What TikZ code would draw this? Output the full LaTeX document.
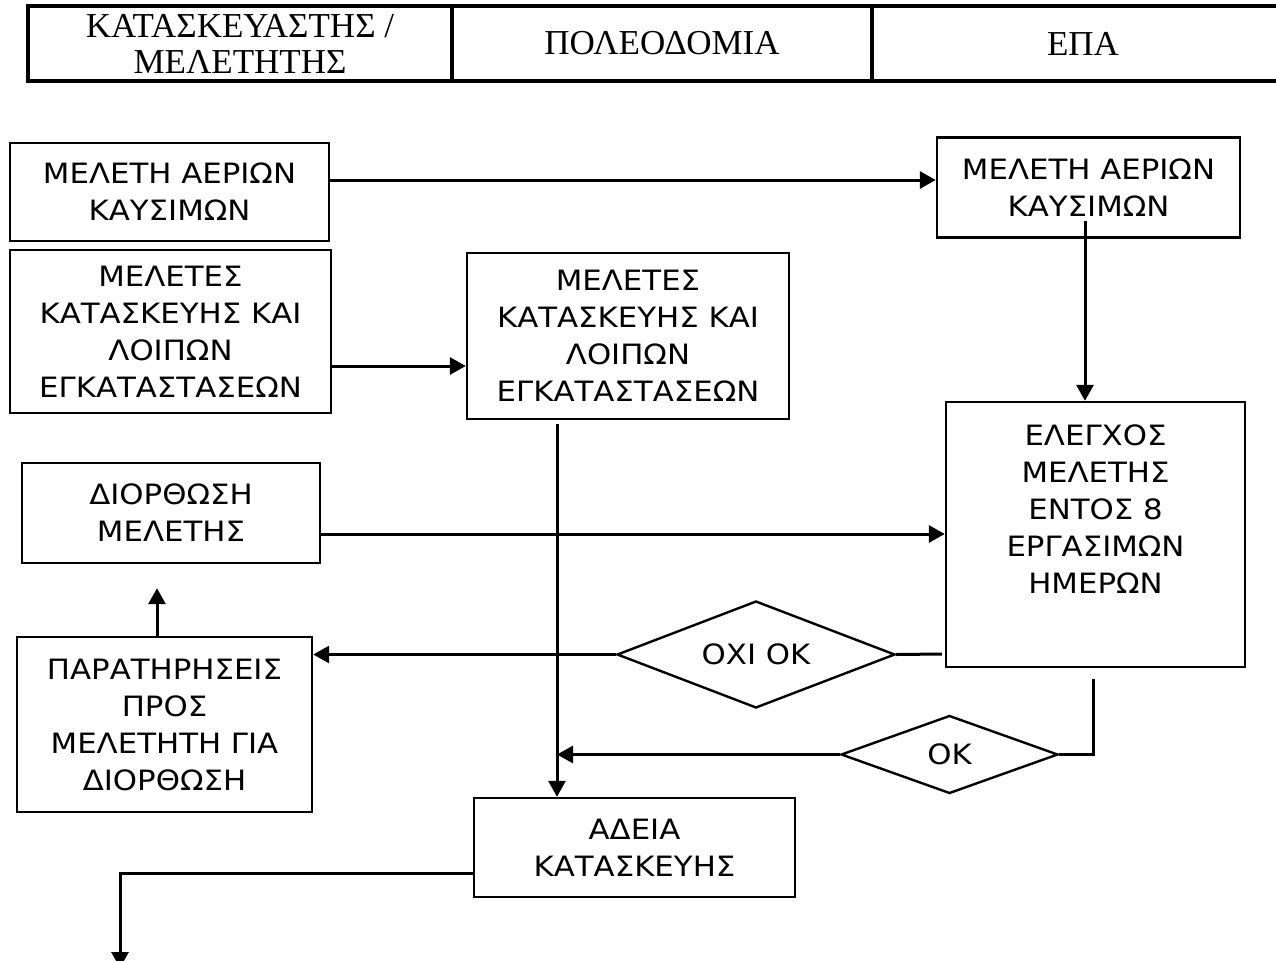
\documentclass[tikz,border=0pt]{standalone}
\usepackage{fontspec}
\setmainfont{Liberation Serif}
\newfontfamily\boxfont{DejaVu Sans}[FakeStretch=1.1]
\usepackage{tikz}
\usetikzlibrary{arrows.meta, shapes.geometric}

\tikzset{
  hdr/.style={draw, line width=1.6pt, inner sep=0pt, align=center,
              font=\fontsize{17.5}{18}\selectfont},
  box/.style={draw, line width=1.2pt, inner sep=0pt, align=center,
              font=\boxfont\fontsize{14}{18.5}\selectfont},
  choice/.style={draw, diamond, aspect=2.6, line width=1.2pt, inner sep=0pt,
                 font=\boxfont\fontsize{14}{18.5}\selectfont},
  arr/.style={line width=1.5pt, arrows={-Triangle[length=8pt, width=8.5pt]}},
  link/.style={line width=1.5pt},
}

\begin{document}
\begin{tikzpicture}[x=0.5pt, y=-0.5pt]
      \useasboundingbox (0, 0) rectangle (1276, 960);

      % Draw header cells.
      \node [hdr, minimum width=212pt, minimum height=37.5pt] (hdrA) at (240, 43.5)
            {ΚΑΤΑΣΚΕΥΑΣΤΗΣ /\\ΜΕΛΕΤΗΤΗΣ};
      \node [hdr, minimum width=210pt, minimum height=37.5pt] (hdrB) at (662, 43.5)
            {ΠΟΛΕΟΔΟΜΙΑ};
      \node [hdr, minimum width=211pt, minimum height=37.5pt] (hdrC) at (1083, 43.5)
            {ΕΠΑ};

      % Draw boxes.
      \node [box, minimum width=159.5pt, minimum height=49pt] (gasA) at (169.5, 192)
            {ΜΕΛΕΤΗ ΑΕΡΙΩΝ\\ΚΑΥΣΙΜΩΝ};
      \node [box, minimum width=160.5pt, minimum height=81.5pt] (studA) at (170.5, 331.5)
            {ΜΕΛΕΤΕΣ\\ΚΑΤΑΣΚΕΥΗΣ ΚΑΙ\\ΛΟΙΠΩΝ\\ΕΓΚΑΤΑΣΤΑΣΕΩΝ};
      \node [box, minimum width=161pt, minimum height=83pt] (studB) at (628, 336)
            {ΜΕΛΕΤΕΣ\\ΚΑΤΑΣΚΕΥΗΣ ΚΑΙ\\ΛΟΙΠΩΝ\\ΕΓΚΑΤΑΣΤΑΣΕΩΝ};
      \node [box, minimum width=151.5pt, minimum height=50pt] (gasC) at (1088.5, 187.5)
            {ΜΕΛΕΤΗ ΑΕΡΙΩΝ\\ΚΑΥΣΙΜΩΝ};
      \node [box, minimum width=149.5pt, minimum height=132.5pt] (check) at (1095.5, 534.5)
            {ΕΛΕΓΧΟΣ\\ΜΕΛΕΤΗΣ\\ΕΝΤΟΣ 8\\ΕΡΓΑΣΙΜΩΝ\\ΗΜΕΡΩΝ\\[7pt]\mbox{}};
      \node [box, minimum width=149pt, minimum height=50pt] (fix) at (171, 513)
            {ΔΙΟΡΘΩΣΗ\\ΜΕΛΕΤΗΣ};
      \node [box, minimum width=147.5pt, minimum height=87.5pt] (notes) at (164.5, 724.5)
            {ΠΑΡΑΤΗΡΗΣΕΙΣ\\ΠΡΟΣ\\ΜΕΛΕΤΗΤΗ ΓΙΑ\\ΔΙΟΡΘΩΣΗ};
      \node [box, minimum width=160.5pt, minimum height=49.5pt] (permit) at (634.5, 847.5)
            {ΑΔΕΙΑ\\ΚΑΤΑΣΚΕΥΗΣ};

      % Draw decisions.
      \node [choice, minimum width=139pt, minimum height=53.5pt] (notok) at (756, 654.5)
            {ΟΧΙ OK};
      \node [choice, minimum width=108.5pt, minimum height=39pt] (isok) at (949.5, 754.5)
            {OK};

      \coordinate (down) at ([xshift=-35.5pt]studB.south);
      \coordinate (out) at (120, 968);

      % Draw connectors.
      \draw [arr] ([yshift=6pt]gasA.east) -- ([yshift=6pt]gasA.east -| gasC.west);
      \draw [arr] ([xshift=-1.75pt, yshift=9pt]gasC.south) --
                  ([xshift=-1.75pt]gasC.south |- check.north);
      \draw [arr] ([yshift=-17.25pt]studA.east) -- ([yshift=-17.25pt]studA.east -| studB.west);
      \draw [arr] ([yshift=-2pt]down) -- (down |- permit.north);
      \draw [arr] ([yshift=-10.5pt]fix.east) -- ([yshift=-10.5pt]fix.east -| check.west);
      \draw [link] ([xshift=-1.5pt, yshift=-59.75pt]check.west) -- (notok.east);
      \draw [arr] (notok.west) -- (notok.west -| notes.east);
      \draw [link] ([xshift=-1.25pt, yshift=-5.5pt]check.south) |- (isok.east);
      \draw [arr] (isok.west) -- (isok.west -| down);
      \draw [arr] ([xshift=-3.75pt]notes.north) -- ([xshift=-3.75pt, yshift=-12pt]notes.north |- fix.south);
      \draw [arr] ([yshift=-12.75pt]permit.west) -| (out);
\end{tikzpicture}
\end{document}
